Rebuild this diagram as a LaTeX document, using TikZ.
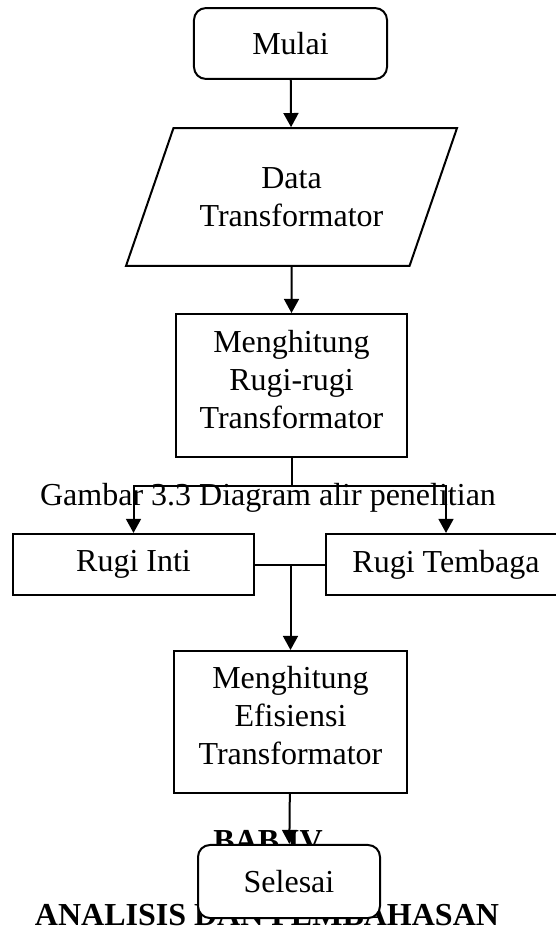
\documentclass[tikz,border=0pt]{standalone}
\usepackage{fontspec}
\setmainfont{Liberation Serif}
\usetikzlibrary{shapes.geometric,arrows.meta}

\tikzset{
  every node/.style={font=\fontsize{12pt}{14.25pt}\selectfont, inner sep=0pt},
  terminal/.style={draw, rounded corners=4.5pt, fill=white, line width=0.75pt},
  process/.style={draw, fill=white, line width=0.75pt, align=center},
  io/.style={draw, trapezium, trapezium left angle=71, trapezium right angle=109,
    trapezium stretches body=true, line width=0.75pt, align=center},
  flow/.style={line width=0.75pt, -{Triangle[width=5.6pt,length=5.3pt]}},
  line/.style={line width=0.75pt},
}

\begin{document}
\begin{tikzpicture}[x=0.375pt,y=-0.375pt]
\useasboundingbox (0,0) rectangle (556,928);

% page text behind the chart
\node[anchor=base] (caption) at (268,505) {Gambar 3.3 Diagram alir penelitian};
\node[anchor=base] (bab) at (268,851) {\textbf{BAB IV}};
\node[anchor=base] (judul) at (267,925) {\textbf{ANALISIS DAN PEMBAHASAN}};

\node[terminal, minimum width=72.4pt, minimum height=26.6pt] (mulai) at (290.5,43.5) {Mulai};
\node[io, minimum width=124.1pt, inner ysep=14.7pt] (data) at (291.5,197) {Data\\Transformator};
\node[process, minimum width=86.6pt, minimum height=53.6pt, text depth=4.9pt] (hitungrugi) at (291.5,385.5) {Menghitung\\Rugi-rugi\\Transformator};
\node[process, minimum width=90.4pt, minimum height=22.9pt] (rugiinti) at (133.5,564.5) {Rugi Inti};
\node[process, minimum width=90pt, minimum height=22.9pt] (rugitembaga) at (446,564.5) {Rugi Tembaga};
\node[process, minimum width=87.4pt, minimum height=53.25pt, text depth=4.9pt] (hitungefisiensi) at (290.5,722) {Menghitung\\Efisiensi\\Transformator};
\node[terminal, minimum width=68.25pt, minimum height=27.4pt] (selesai) at (289,881.5) {Selesai};

\coordinate (cabang) at (291.5,486);
\coordinate (gabung) at (290.5,564.5);

\draw[flow] (mulai) -- (data);
\draw[flow] (data) -- (hitungrugi);
\draw[line] (hitungrugi.south) -- (cabang);
\draw[flow] (cabang) -| (rugiinti.north);
\draw[flow] (cabang) -| (rugitembaga.north);
\draw[line] (rugiinti) -- (rugitembaga);
\draw[flow] (gabung) -- (hitungefisiensi.north);
\draw[flow] (hitungefisiensi) -- (selesai);
\end{tikzpicture}
\end{document}
